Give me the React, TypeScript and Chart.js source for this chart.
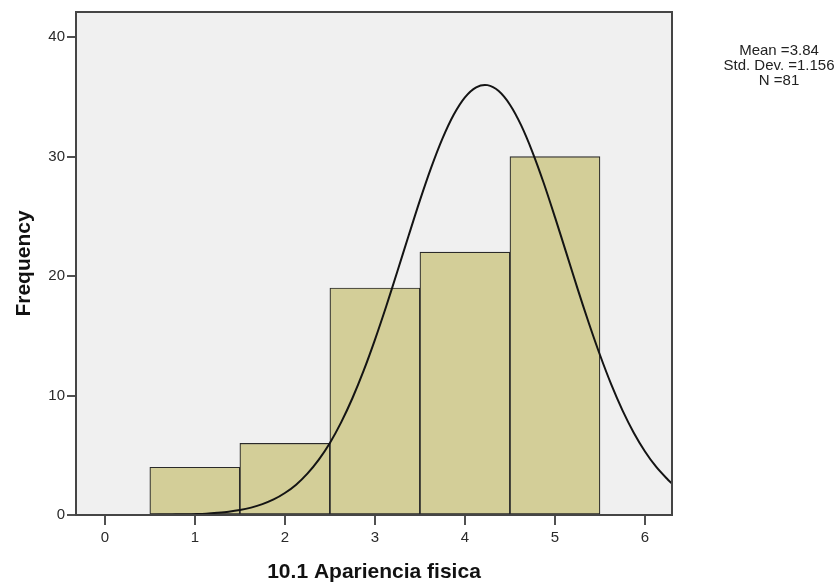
import React, { useEffect, useRef } from "react";
import { Chart, registerables } from "chart.js";

Chart.register(...registerables);

// ---- data ----
const binCenters = [1, 2, 3, 4, 5];
const frequencies = [4, 6, 19, 22, 30];

const curveX = [
  -0.32, 0, 0.25, 0.5, 0.75, 0.875, 1.0, 1.125, 1.25, 1.375, 1.5, 1.625, 1.75, 1.875, 2.0, 2.125, 2.25, 2.375, 2.5,
  2.625, 2.75, 2.875, 3.0, 3.125, 3.25, 3.375, 3.5, 3.625, 3.75, 3.875, 4.0, 4.125, 4.25, 4.375, 4.5,
  4.625, 4.75, 4.875, 5.0, 5.125, 5.25, 5.375, 5.5, 5.625, 5.75, 5.875, 6.0, 6.125, 6.25, 6.3,
];
const curveY = [
  0, 0, 0, 0.01, 0.03, 0.04, 0.07, 0.11, 0.18, 0.27, 0.41, 0.62, 0.91, 1.3, 1.84, 2.54, 3.46, 4.61, 6.03,
  7.75, 9.77, 12.08, 14.66, 17.45, 20.4, 23.39, 26.33, 29.07, 31.5, 33.5, 34.96, 35.8, 35.98, 35.48, 34.34,
  32.61, 30.38, 27.79, 24.93, 21.96, 18.97, 16.09, 13.39, 10.93, 8.76, 6.89, 5.32, 4.02, 2.99, 2.64,
];

const xTicks = [0, 1, 2, 3, 4, 5, 6];
const yTicks = [0, 10, 20, 30, 40];

const xTitle = "10.1 Apariencia fisica";
const yTitle = "Frequency";
const statsLines = ["Mean =3.84", "Std. Dev. =1.156", "N =81"];

const FONT = '"Liberation Sans", Arial, sans-serif';

const decor = {
  id: "decor",
  beforeDraw(chart: any) {
    const { ctx, chartArea: a } = chart;
    ctx.save();
    ctx.fillStyle = "#f0f0f0";
    ctx.fillRect(a.left, a.top, a.right - a.left, a.bottom - a.top);
    ctx.restore();
  },
  afterDatasetsDraw(chart: any) {
    const { ctx, chartArea: a } = chart;
    ctx.save();
    ctx.strokeStyle = "#454545";
    ctx.lineWidth = 2;
    ctx.strokeRect(a.left, a.top, a.right - a.left, a.bottom - a.top);
    ctx.restore();
  },
  afterDraw(chart: any) {
    const { ctx, chartArea: a } = chart;
    ctx.save();
    ctx.fillStyle = "#111";
    ctx.textAlign = "center";
    ctx.textBaseline = "middle";
    ctx.font = `bold 21px ${FONT}`;
    ctx.fillText(xTitle, (a.left + a.right) / 2, 572);
    ctx.save();
    ctx.translate(24, (a.top + a.bottom) / 2);
    ctx.rotate(-Math.PI / 2);
    ctx.fillText(yTitle, 0, 0);
    ctx.restore();
    ctx.font = `15px ${FONT}`;
    ctx.fillStyle = "#222";
    statsLines.forEach((t, i) => ctx.fillText(t, 779, 51 + i * 14.8));
    ctx.restore();
  },
};

export default function App() {
  const ref = useRef<HTMLCanvasElement>(null);
  useEffect(() => {
    if (!ref.current) return;
    const chart = new Chart(ref.current, {
      type: "bar",
      data: {
        datasets: [
          {
            type: "line",
            data: curveX.map((x, i) => ({ x, y: curveY[i] })),
            borderColor: "#141414",
            borderWidth: 2,
            pointRadius: 0,
            fill: false,
            tension: 0.3,
            order: 0,
          } as any,
          {
            type: "bar",
            data: binCenters.map((x, i) => ({ x, y: frequencies[i] })),
            backgroundColor: "#d3ce98",
            borderColor: "#2a2a2a",
            borderWidth: 1.2,
            borderSkipped: false,
            barPercentage: 1,
            categoryPercentage: 1,
            order: 1,
          } as any,
        ],
      },
      options: {
        responsive: false,
        animation: false,
        layout: { padding: { top: 12, right: 168, left: 0, bottom: 0 } },
        plugins: { legend: { display: false }, tooltip: { enabled: false } },
        scales: {
          x: {
            type: "linear",
            min: -0.32,
            max: 6.3,
            offset: false,
            grid: { offset: false, drawOnChartArea: false, drawTicks: true, tickLength: 10, color: "#505050", lineWidth: 2 },
            border: { display: false },
            ticks: { color: "#2a2a2a", font: { family: FONT, size: 15 }, padding: 4, maxRotation: 0 },
            afterBuildTicks: (s: any) => { s.ticks = xTicks.map((v) => ({ value: v })); },
            afterFit: (s: any) => { s.height = 68; },
          },
          y: {
            type: "linear",
            min: 0,
            max: 42.1,
            grid: { drawOnChartArea: false, drawTicks: true, tickLength: 9, color: "#505050", lineWidth: 2 },
            border: { display: false },
            ticks: { color: "#2a2a2a", font: { family: FONT, size: 15 }, padding: 2 },
            afterBuildTicks: (s: any) => { s.ticks = yTicks.map((v) => ({ value: v })); },
            afterFit: (s: any) => { s.width = 76; },
          },
        },
      },
      plugins: [decor],
    });
    return () => chart.destroy();
  }, []);
  return (
    <div style={{ position: "absolute", left: 0, top: 0, width: 840, height: 583, background: "#fff" }}>
      <canvas ref={ref} width={840} height={583} style={{ display: "block" }} />
    </div>
  );
}
